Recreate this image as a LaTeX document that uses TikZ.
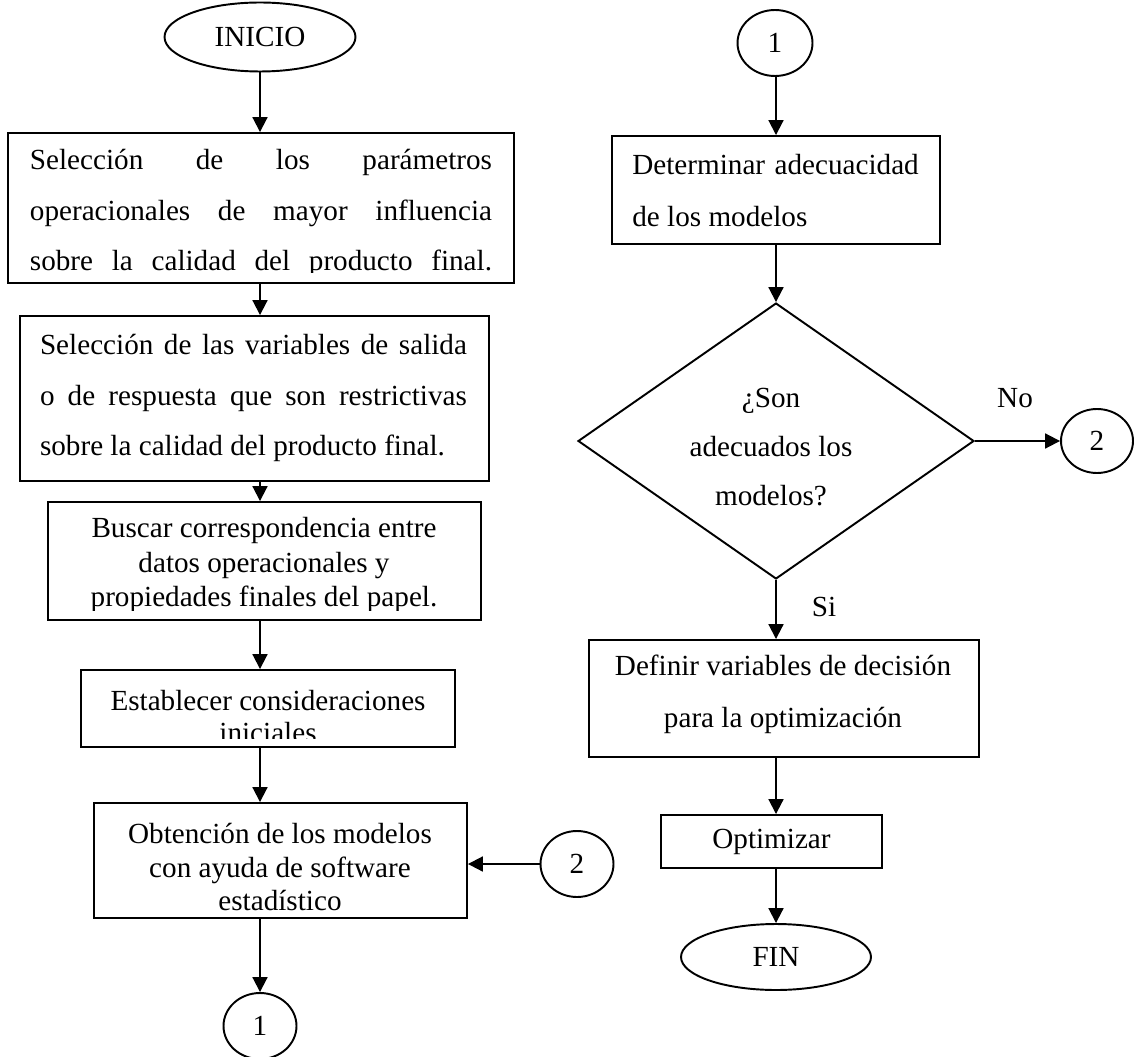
\documentclass[tikz,border=0pt]{standalone}
\usepackage{fontspec}
\setmainfont{Liberation Serif}
\usetikzlibrary{arrows.meta,shapes.geometric}

\tikzset{
	caja/.style={draw, line width=1.1pt, rectangle, inner sep=0pt},
	circulo/.style={draw, line width=1.1pt, ellipse, inner sep=0pt, font=\fontsize{16.6}{20}\selectfont},
	texto/.style={inner sep=0pt, font=\fontsize{16.6}{20}\selectfont, align=center},
	flecha/.style={line width=1.1pt, -{Triangle[length=8.5pt,width=8.5pt]}}
}

\begin{document}
\begin{tikzpicture}[x=0.02cm, y=-0.02cm]
		%%%%% START %%%%%
		\useasboundingbox (0, 0) rectangle (1135, 1057);
		
		\coordinate (ejeI) at (260, 0);
		\coordinate (ejeD) at (776, 0);
		
		% columna izquierda
		\node[circulo, minimum width=3.82cm, minimum height=1.38cm] (inicio) at (260, 37) {INICIO};
		\node[caja, minimum width=10.12cm, minimum height=3cm] (sel1) at (261, 208) {};
		\node[caja, minimum width=9.38cm, minimum height=3.3cm] (sel2) at (254.5, 398.5) {};
		\node[caja, minimum width=8.66cm, minimum height=2.36cm] (buscar) at (264.5, 561) {};
		\node[caja, minimum width=7.48cm, minimum height=1.54cm] (estab) at (268, 708.5) {};
		\node[caja, minimum width=7.46cm, minimum height=2.3cm] (obt) at (280.5, 860.5) {};
		\node[circulo, minimum width=1.46cm, minimum height=1.32cm] (unoA) at (260, 1026) {1};
		\node[circulo, minimum width=1.46cm, minimum height=1.32cm] (dosA) at (577, 864) {2};
		
		\begin{scope}
			\clip (8, 133) rectangle (514, 273);
			\node[texto, font=\fontsize{16.6}{28.5}\selectfont] (tsel1) at (261, 213)
			{\makebox[263pt][s]{Selección de los parámetros}\\
			 \makebox[263pt][s]{operacionales de mayor influencia}\\
			 \makebox[263pt][s]{sobre la calidad del producto final.}};
		\end{scope}
		\node[texto, font=\fontsize{16.6}{28.5}\selectfont] (tsel2) at (253.5, 398)
		{\makebox[243pt][s]{Selección de las variables de salida}\\
		 \makebox[243pt][s]{o de respuesta que son restrictivas}\\
		 \makebox[243pt][l]{sobre la calidad del producto final.}};
		\begin{scope}
			\clip (48, 502) rectangle (481, 610);
			\node[texto, font=\fontsize{16.6}{19.9}\selectfont] (tbuscar) at (264, 565)
			{Buscar correspondencia entre\\datos operacionales y\\propiedades finales del papel.};
		\end{scope}
		\begin{scope}
			\clip (81, 670) rectangle (455, 738);
			\node[texto, font=\fontsize{16.6}{18.2}\selectfont] (testab) at (268, 717)
			{Establecer consideraciones\\iniciales};
		\end{scope}
		\node[texto, font=\fontsize{16.6}{19}\selectfont] (tobt) at (280, 867)
		{Obtención de los modelos\\con ayuda de software\\estadístico};
		
		% columna derecha
		\node[circulo, minimum width=1.5cm, minimum height=1.32cm] (unoB) at (775, 43) {1};
		\node[caja, minimum width=6.56cm, minimum height=2.16cm] (determ) at (776, 190) {};
		\node[draw, line width=1.1pt, diamond, inner sep=0pt, minimum width=7.92cm, minimum height=5.52cm] (preg) at (776, 441) {};
		\node[circulo, minimum width=1.44cm, minimum height=1.28cm] (dosB) at (1097, 441) {2};
		\node[caja, minimum width=7.8cm, minimum height=2.34cm] (defin) at (784, 698.5) {};
		\node[caja, minimum width=4.42cm, minimum height=1.06cm, font=\fontsize{16.6}{20}\selectfont] (optim) at (771.5, 841.5) {Optimizar};
		\node[circulo, minimum width=3.8cm, minimum height=1.32cm] (fin) at (776, 957) {FIN};
		
		\node[texto, anchor=west, align=left, font=\fontsize{16.6}{29.6}\selectfont] (tdeterm) at (632, 191)
		{\makebox[163pt][s]{Determinar adecuacidad}\\de los modelos};
		\node[texto, font=\fontsize{16.6}{28}\selectfont] (tpreg) at (771, 447)
		{¿Son\\adecuados los\\modelos?};
		\node[texto, font=\fontsize{16.6}{29.6}\selectfont] (tdefin) at (783, 694)
		{Definir variables de decisión\\para la optimización};
		\begin{scope}
			\clip (980, 370) rectangle (1050, 407);
			\node[texto] (no) at (1015, 398) {No};
		\end{scope}
		\node[texto] (si) at (824, 607) {Si};
		
		% conectores
		\draw[flecha] (ejeI |- inicio.south) -- (ejeI |- sel1.north);
		\draw[flecha] (ejeI |- sel1.south) -- (ejeI |- sel2.north);
		\draw[flecha] (ejeI |- sel2.south) -- (ejeI |- buscar.north);
		\draw[flecha] (ejeI |- buscar.south) -- (ejeI |- estab.north);
		\draw[flecha] (ejeI |- estab.south) -- (ejeI |- obt.north);
		\draw[flecha] (ejeI |- obt.south) -- (unoA.north);
		\draw[flecha] (dosA.west) -- (dosA.west -| obt.east);
		
		\draw[flecha] (ejeD |- unoB.south) -- (ejeD |- determ.north);
		\draw[flecha] (ejeD |- determ.south) -- (preg.north);
		\draw[flecha] (preg.east) -- (dosB.west);
		\draw[flecha] (preg.south) -- (preg.south |- defin.north);
		\draw[flecha] (ejeD |- defin.south) -- (ejeD |- optim.north);
		\draw[flecha] (ejeD |- optim.south) -- (fin.north);
		
		%%%%% END %%%%%
\end{tikzpicture}
\end{document}
